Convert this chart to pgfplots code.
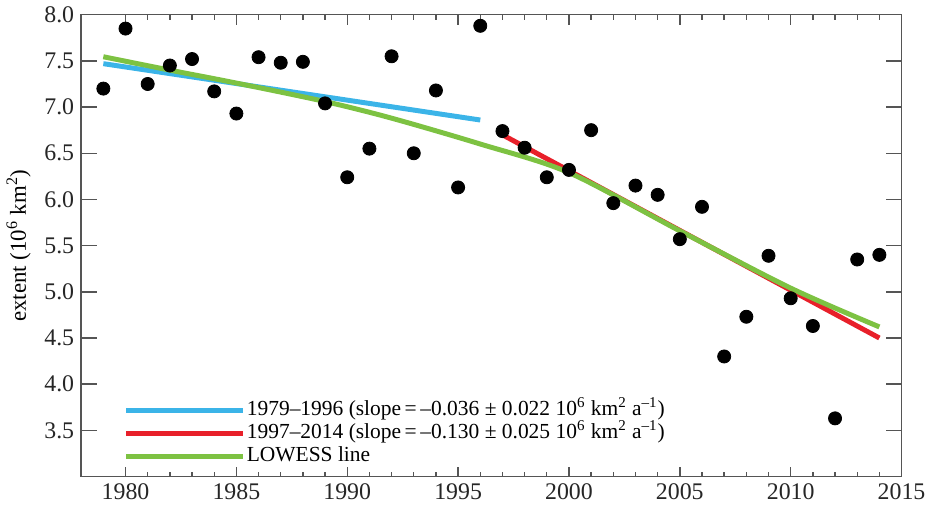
\documentclass[border=0pt]{standalone}
\usepackage{fontspec}
\setmainfont{Liberation Serif}
\usepackage{pgfplots}
\pgfplotsset{compat=1.18}

\definecolor{lineblue}{HTML}{3BB4E8}
\definecolor{linered}{HTML}{E8202A}
\definecolor{linegreen}{HTML}{7DC242}
\definecolor{axgray}{HTML}{555555}

\begin{document}
\begin{tikzpicture}
\begin{axis}[
    scale only axis,
    width=413pt, height=232.5pt,
    xmin=1978, xmax=2015,
    ymin=3.0, ymax=8.0,
    xtick={1980,1985,...,2015},
    ytick={3.5,4.0,...,8.0},
    minor x tick num=4,
    tick align=inside,
    major tick length=5pt,
    minor tick length=2.5pt,
    y tick style={/pgfplots/major tick length=8pt},
    tick style={axgray, line width=0.7pt},
    axis line style={axgray, line width=0.7pt},
    xticklabel={\pgfmathprintnumber[1000 sep={}, assume math mode=true]{\tick}},
    yticklabel={\pgfmathprintnumber[fixed, fixed zerofill, precision=1, assume math mode=true]{\tick}},
    tick label style={font=\fontsize{12}{14}\selectfont, text=black!85},
    ylabel={extent (10\textsuperscript{6} km\textsuperscript{2})},
    ylabel style={font=\fontsize{11.5}{13}\selectfont},
    legend cell align=left,
    legend image code/.code={\draw[#1] (0pt,0pt) -- (56pt,0pt); \path (0pt,0pt) -- (59pt,0pt);},
    legend style={draw=none, fill=none, inner sep=0pt, row sep=0pt,
        font=\fontsize{10.8}{11.8}\selectfont,
        nodes={inner sep=0.5pt, text height=7.9pt, text depth=2.8pt},
        at={(axis cs:1979.9,3.85)}, anchor=north west},
]
% September extent
\addplot[only marks, mark=*, mark size=3.3pt, black, forget plot] coordinates {
(1979,7.20) (1980,7.85) (1981,7.25) (1982,7.45) (1983,7.52) (1984,7.17)
(1985,6.93) (1986,7.54) (1987,7.48) (1988,7.49) (1989,7.04) (1990,6.24)
(1991,6.55) (1992,7.55) (1993,6.50) (1994,7.18) (1995,6.13) (1996,7.88)
(1997,6.74) (1998,6.56) (1999,6.24) (2000,6.32) (2001,6.75) (2002,5.96)
(2003,6.15) (2004,6.05) (2005,5.57) (2006,5.92) (2007,4.30) (2008,4.73)
(2009,5.39) (2010,4.93) (2011,4.63) (2012,3.63) (2013,5.35) (2014,5.40)
};
\addplot[lineblue, line width=2.5pt] coordinates {(1979,7.47) (1996,6.86)};
\addlegendentry{1979–1996 (slope\,=\,–0.036 ± 0.022 10\textsuperscript{6} km\textsuperscript{2} a\textsuperscript{–1})}
\addplot[linered, line width=2.5pt] coordinates {(1997,6.70) (2014,4.50)};
\addlegendentry{1997–2014 (slope\,=\,–0.130 ± 0.025 10\textsuperscript{6} km\textsuperscript{2} a\textsuperscript{–1})}
\addplot[linegreen, line width=2.5pt, smooth, tension=0.5] coordinates {
(1979,7.545) (1982,7.40) (1985,7.26) (1989,7.06) (1992,6.88) (1996,6.60)
(2000,6.29) (2005,5.66) (2010,5.04) (2014,4.62)
};
\addlegendentry{LOWESS line}
\end{axis}
\end{tikzpicture}
\end{document}
